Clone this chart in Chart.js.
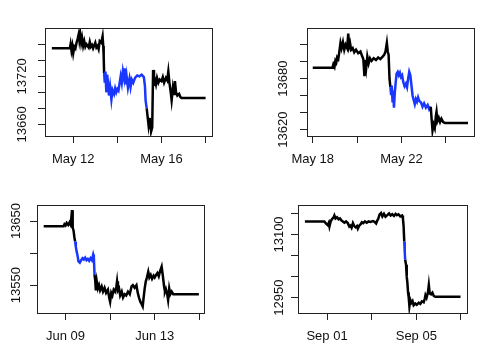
<!DOCTYPE html>
<html>
<head>
<meta charset="utf-8">
<script src="https://cdn.jsdelivr.net/npm/chart.js@4.4.1/dist/chart.umd.min.js"></script>
<style>
  body { margin: 0; background: #fff; }
  #wrap { position: relative; width: 491px; height: 354px; background: #fff; }
  canvas { position: absolute; }
</style>
</head>
<body>
<div id="wrap">
  <canvas id="p1" width="245" height="177" style="left:0;top:0"></canvas>
  <canvas id="p2" width="246" height="177" style="left:245px;top:0"></canvas>
  <canvas id="p3" width="245" height="177" style="left:0;top:177px"></canvas>
  <canvas id="p4" width="246" height="177" style="left:245px;top:177px"></canvas>
</div>
<script>
// panel 1: May 11 - May 18 (x = day of May)
const p1Days = [11.03, 11.85, 11.88, 11.92, 11.96, 12.0, 12.05, 12.1, 12.15, 12.2, 12.25, 12.28, 12.32, 12.36, 12.4, 12.45, 12.5, 12.55, 12.6, 12.7, 12.75, 12.8, 12.85, 12.9, 13.0, 13.05, 13.1, 13.15, 13.2, 13.27, 13.33, 13.36, 13.38, 13.4, 13.43, 13.46, 13.5, 13.54, 13.58, 13.62, 13.67, 13.73, 13.78, 13.85, 13.9, 13.95, 14.0, 14.05, 14.1, 14.15, 14.2, 14.25, 14.3, 14.33, 14.38, 14.42, 14.48, 14.55, 14.6, 14.65, 14.72, 14.8, 14.9, 15.0, 15.1, 15.2, 15.25, 15.28, 15.33, 15.37, 15.41, 15.44, 15.47, 15.5, 15.53, 15.58, 15.62, 15.66, 15.7, 15.75, 15.8, 15.86, 15.92, 16.0, 16.06, 16.12, 16.2, 16.26, 16.31, 16.36, 16.42, 16.46, 16.52, 16.57, 16.61, 16.66, 16.72, 16.8, 16.86, 16.91, 18.0]
const p1Values = [13755, 13755, 13760, 13752, 13758, 13749, 13757, 13755, 13762, 13767, 13773, 13765, 13772, 13762, 13768, 13758, 13764, 13757, 13760, 13756, 13763, 13757, 13759, 13755, 13762, 13756, 13758, 13754, 13764, 13762, 13770, 13758, 13745, 13724, 13712, 13726, 13700, 13722, 13710, 13696, 13707, 13691, 13703, 13698, 13705, 13700, 13704, 13702, 13711, 13720, 13712, 13726, 13718, 13730, 13710, 13720, 13706, 13717, 13707, 13716, 13712, 13718, 13721, 13720, 13722, 13719, 13708, 13690, 13680, 13670, 13660, 13668, 13654, 13662, 13651, 13656, 13728, 13708, 13716, 13710, 13718, 13712, 13716, 13714, 13719, 13712, 13718, 13715, 13726, 13712, 13700, 13690, 13706, 13698, 13714, 13700, 13696, 13698, 13694, 13693, 13693]
const p1Blue = [13.4, 15.33]
const p1XTicks = [12, 14, 16, 18]
const p1XLabels = ['May 12', '', 'May 16', '']
const p1YTicks = [13660, 13680, 13700, 13720, 13740, 13760]
const p1YLabels = ['13660', '', '', '13720', '', '']

// panel 2: May 18 - May 25
const p2Days = [18.0, 18.89, 18.93, 18.98, 19.02, 19.06, 19.1, 19.15, 19.2, 19.25, 19.3, 19.36, 19.42, 19.48, 19.55, 19.6, 19.64, 19.68, 19.73, 19.8, 19.87, 19.95, 20.05, 20.15, 20.22, 20.28, 20.33, 20.37, 20.41, 20.46, 20.52, 20.58, 20.65, 20.75, 20.85, 20.95, 21.05, 21.15, 21.22, 21.28, 21.34, 21.38, 21.42, 21.46, 21.5, 21.53, 21.56, 21.6, 21.63, 21.66, 21.7, 21.74, 21.78, 21.83, 21.88, 21.93, 21.98, 22.03, 22.08, 22.14, 22.2, 22.25, 22.3, 22.35, 22.4, 22.45, 22.5, 22.55, 22.6, 22.65, 22.7, 22.75, 22.8, 22.88, 22.95, 23.02, 23.1, 23.18, 23.25, 23.32, 23.36, 23.4, 23.45, 23.5, 23.55, 23.58, 23.62, 23.68, 23.74, 23.8, 23.88, 23.96, 25.0]
const p2Values = [13693, 13693, 13697, 13694, 13701, 13699, 13705, 13703, 13712, 13722, 13716, 13723, 13714, 13720, 13716, 13733, 13718, 13722, 13714, 13716, 13711, 13714, 13710, 13712, 13707, 13703, 13683, 13702, 13693, 13706, 13698, 13704, 13701, 13704, 13702, 13705, 13703, 13706, 13708, 13712, 13722, 13712, 13708, 13680, 13670, 13662, 13672, 13652, 13666, 13646, 13664, 13676, 13686, 13688, 13684, 13687, 13682, 13684, 13676, 13671, 13674, 13670, 13680, 13688, 13684, 13672, 13660, 13655, 13650, 13656, 13653, 13658, 13654, 13652, 13647, 13651, 13646, 13649, 13644, 13647, 13632, 13619, 13626, 13622, 13636, 13641, 13630, 13634, 13629, 13633, 13629, 13628, 13628]
const p2Blue = [21.5, 23.32]
const p2XTicks = [18, 20, 22, 24]
const p2XLabels = ['May 18', '', 'May 22', '']
const p2YTicks = [13620, 13640, 13660, 13680, 13700, 13720]
const p2YLabels = ['13620', '', '', '13680', '', '']

// panel 3: Jun 08 - Jun 15
const p3Days = [8.02, 8.91, 8.95, 9.0, 9.05, 9.12, 9.18, 9.22, 9.26, 9.29, 9.32, 9.36, 9.4, 9.43, 9.46, 9.5, 9.54, 9.58, 9.64, 9.7, 9.76, 9.82, 9.88, 9.94, 10.0, 10.06, 10.12, 10.18, 10.24, 10.27, 10.3, 10.33, 10.36, 10.4, 10.45, 10.5, 10.55, 10.62, 10.68, 10.75, 10.82, 10.9, 10.96, 11.0, 11.05, 11.1, 11.16, 11.22, 11.28, 11.31, 11.35, 11.4, 11.45, 11.52, 11.58, 11.65, 11.72, 11.8, 11.88, 11.96, 12.02, 12.1, 12.18, 12.24, 12.3, 12.36, 12.42, 12.46, 12.5, 12.55, 12.6, 12.65, 12.71, 12.76, 12.82, 12.88, 12.95, 13.0, 13.06, 13.12, 13.18, 13.24, 13.31, 13.36, 13.42, 13.46, 13.5, 13.56, 13.6, 13.65, 13.7, 13.76, 13.83, 14.98]
const p3Values = [13642, 13642, 13645, 13643, 13647, 13644, 13648, 13645, 13655, 13667, 13640, 13635, 13624, 13618, 13610, 13602, 13596, 13587, 13585, 13589, 13592, 13590, 13593, 13589, 13591, 13588, 13592, 13589, 13598, 13594, 13566, 13558, 13542, 13556, 13545, 13550, 13542, 13548, 13540, 13546, 13538, 13543, 13530, 13524, 13538, 13534, 13543, 13540, 13548, 13556, 13542, 13545, 13534, 13540, 13531, 13536, 13534, 13540, 13536, 13548, 13550, 13546, 13550, 13538, 13530, 13524, 13520, 13517, 13530, 13545, 13556, 13562, 13571, 13562, 13566, 13560, 13565, 13562, 13566, 13569, 13564, 13572, 13579, 13566, 13548, 13540, 13544, 13536, 13527, 13545, 13536, 13540, 13536, 13536]
const p3Blue = [9.43, 10.3]
const p3XTicks = [9, 11, 13, 15]
const p3XLabels = ['Jun 09', '', 'Jun 13', '']
const p3YTicks = [13550, 13600, 13650]
const p3YLabels = ['13550', '', '13650']

// panel 4: Aug 31 - Sep 07 (x = day of September, Aug 31 = 0)
const p4Days = [0.01, 0.88, 0.95, 1.03, 1.08, 1.11, 1.17, 1.23, 1.3, 1.33, 1.38, 1.45, 1.52, 1.58, 1.65, 1.71, 1.78, 1.85, 1.93, 2.0, 2.05, 2.1, 2.16, 2.22, 2.28, 2.34, 2.38, 2.44, 2.5, 2.56, 2.62, 2.7, 2.78, 2.86, 2.95, 3.05, 3.13, 3.2, 3.25, 3.3, 3.35, 3.42, 3.48, 3.55, 3.62, 3.7, 3.78, 3.85, 3.92, 4.0, 4.07, 4.13, 4.2, 4.28, 4.36, 4.4, 4.43, 4.46, 4.48, 4.5, 4.54, 4.57, 4.6, 4.63, 4.66, 4.69, 4.73, 4.78, 4.83, 4.88, 4.95, 5.02, 5.11, 5.18, 5.25, 5.33, 5.38, 5.41, 5.46, 5.52, 5.56, 5.6, 5.66, 5.72, 5.78, 5.85, 6.98]
const p4Values = [13131, 13131, 13126, 13122, 13128, 13119, 13132, 13137, 13141, 13145, 13138, 13141, 13136, 13138, 13133, 13131, 13128, 13131, 13127, 13119, 13121, 13116, 13127, 13120, 13117, 13120, 13114, 13121, 13124, 13129, 13127, 13131, 13128, 13131, 13130, 13132, 13130, 13126, 13133, 13138, 13147, 13151, 13143, 13149, 13142, 13146, 13150, 13145, 13148, 13144, 13149, 13146, 13148, 13143, 13145, 13138, 13120, 13083, 13060, 13040, 13028, 13000, 12985, 12962, 12950, 12930, 12945, 12938, 12942, 12932, 12936, 12933, 12938, 12935, 12941, 12939, 12948, 12956, 12950, 12962, 12980, 12960, 12958, 12962, 12954, 12952, 12952]
const p4Blue = [4.46, 4.5]
const p4XTicks = [1, 3, 5, 7]
const p4XLabels = ['Sep 01', '', 'Sep 05', '']
const p4YTicks = [12950, 13000, 13050, 13100, 13150]
const p4YLabels = ['12950', '', '', '13100', '']

const highlight = 'rgb(25, 55, 255)'

Chart.defaults.font.family = "'Liberation Sans', Arial, sans-serif"
Chart.defaults.font.size = 13
Chart.defaults.color = '#111'

const boxPlugin = {
  id: 'plotBox',
  afterDraw(chart) {
    const { ctx, chartArea: a } = chart
    ctx.save()
    ctx.strokeStyle = '#222'
    ctx.lineWidth = 1
    ctx.strokeRect(Math.round(a.left) + 0.5, Math.round(a.top) + 0.5,
      Math.round(a.right - a.left), Math.round(a.bottom - a.top))
    ctx.restore()
  },
}

function drawPanel(id, days, values, blueRange, xTicks, xLabels, yTicks, yLabels, xRange, yRange, box, yPad) {
  const canvas = document.getElementById(id)
  const W = canvas.width
  const H = canvas.height
  const inBlue = (x) => x >= blueRange[0] && x <= blueRange[1]

  new Chart(canvas, {
    type: 'line',
    data: {
      datasets: [
        {
          data: days.map((d, i) => ({ x: d, y: values[i] })),
          borderColor: '#000',
          borderWidth: 2.5,
          pointRadius: 0,
          tension: 0,
          segment: {
            borderColor: (ctx) => (inBlue(ctx.p0.parsed.x) && inBlue(ctx.p1.parsed.x) ? highlight : undefined),
          },
        },
      ],
    },
    options: {
      responsive: false,
      animation: false,
      events: [],
      layout: { padding: { left: 0, top: box[1], right: W - box[2], bottom: 0 } },
      plugins: { legend: { display: false }, tooltip: { enabled: false } },
      scales: {
        x: {
          type: 'linear',
          min: xRange[0],
          max: xRange[1],
          afterBuildTicks: (s) => { s.ticks = xTicks.map((v) => ({ value: v })) },
          afterFit: (s) => { s.height = H - box[3] },
          ticks: {
            autoSkip: false,
            minRotation: 0,
            maxRotation: 0,
            padding: 9,
            callback: (v) => xLabels[xTicks.indexOf(v)],
          },
          grid: { drawOnChartArea: false, tickLength: 7, color: '#222' },
          border: { display: false },
        },
        y: {
          type: 'linear',
          min: yRange[0],
          max: yRange[1],
          afterBuildTicks: (s) => { s.ticks = yTicks.map((v) => ({ value: v })) },
          afterFit: (s) => { s.width = box[0] },
          ticks: {
            autoSkip: false,
            minRotation: 90,
            maxRotation: 90,
            crossAlign: 'center',
            padding: yPad,
            callback: (v) => yLabels[yTicks.indexOf(v)],
          },
          grid: { drawOnChartArea: false, tickLength: 7, color: '#222' },
          border: { display: false },
        },
      },
    },
    plugins: [boxPlugin],
  })
}

drawPanel('p1', p1Days, p1Values, p1Blue, p1XTicks, p1XLabels, p1YTicks, p1YLabels,
  [10.72, 18.29], [13645.4, 13780.4], [45, 28, 212, 136], -2)
drawPanel('p2', p2Days, p2Values, p2Blue, p2XTicks, p2XLabels, p2YTicks, p2YLabels,
  [17.74, 25.27], [13612.6, 13739.6], [62, 28, 229, 136], -1.5)
drawPanel('p3', p3Days, p3Values, p3Blue, p3XTicks, p3XLabels, p3YTicks, p3YLabels,
  [7.72, 15.21], [13506.7, 13675], [37, 28, 204, 136], -4.3)
drawPanel('p4', p4Days, p4Values, p4Blue, p4XTicks, p4XLabels, p4YTicks, p4YLabels,
  [-0.3, 7.27], [12913.6, 13170], [53, 28, 222, 136], -6.4)
</script>
</body>
</html>
